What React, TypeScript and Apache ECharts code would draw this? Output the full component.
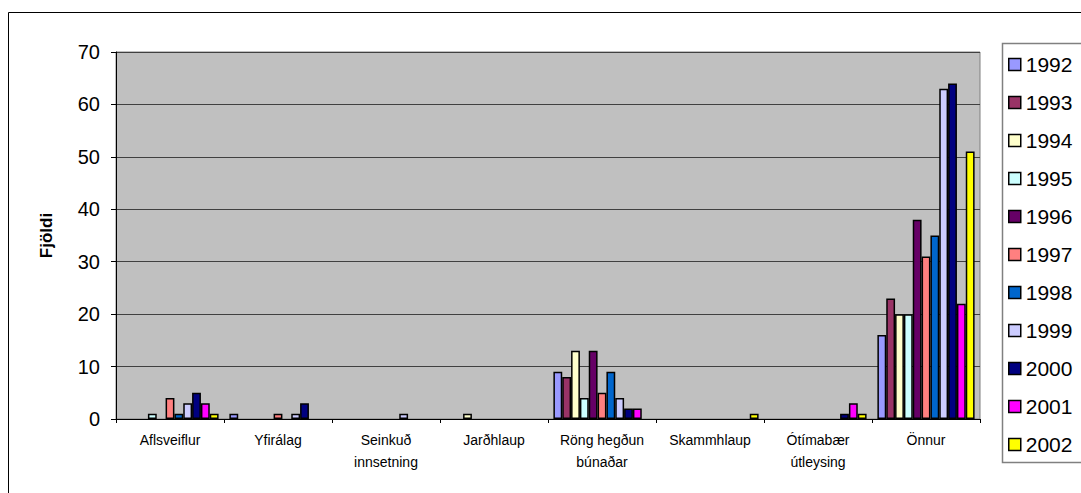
import React, { useEffect, useRef } from "react";
import * as echarts from "echarts";

// Fault categories along the x axis
const categories = [
  "Aflsveiflur",
  "Yfirálag",
  "Seinkuð\ninnsetning",
  "Jarðhlaup",
  "Röng hegðun\nbúnaðar",
  "Skammhlaup",
  "Ótímabær\nútleysing",
  "Önnur",
];

const years = ["1992", "1993", "1994", "1995", "1996", "1997", "1998", "1999", "2000", "2001", "2002"];

// Counts per year, one value per category
const v1992 = [0, 1, 0, 0, 9, 0, 0, 16];
const v1993 = [0, 0, 0, 0, 8, 0, 0, 23];
const v1994 = [0, 0, 0, 1, 13, 0, 0, 20];
const v1995 = [1, 0, 0, 0, 4, 0, 0, 20];
const v1996 = [0, 0, 0, 0, 13, 0, 0, 38];
const v1997 = [4, 1, 0, 0, 5, 0, 0, 31];
const v1998 = [1, 0, 0, 0, 9, 0, 0, 35];
const v1999 = [3, 1, 1, 0, 4, 0, 0, 63];
const v2000 = [5, 3, 0, 0, 2, 0, 1, 64];
const v2001 = [3, 0, 0, 0, 2, 0, 3, 22];
const v2002 = [1, 0, 0, 0, 0, 1, 1, 51];

const yearValues = [v1992, v1993, v1994, v1995, v1996, v1997, v1998, v1999, v2000, v2001, v2002];

const yearColors = [
  "#9999FF",
  "#993366",
  "#FFFFCC",
  "#CCFFFF",
  "#660066",
  "#FF8080",
  "#0066CC",
  "#CCCCFF",
  "#000080",
  "#FF00FF",
  "#FFFF00",
];

const yTicks = { min: 0, max: 70, interval: 10 };

const FONT = "'Liberation Sans', Arial, sans-serif";

export default function App() {
  const ref = useRef<HTMLDivElement>(null);

  useEffect(() => {
    if (!ref.current) return;
    const chart = echarts.init(ref.current, undefined, { renderer: "svg" });

    const series = years.map((y, i) => ({
      name: y,
      type: "bar" as const,
      barGap: "0%",
      barCategoryGap: "10%",
      // empty counts are left out so no flat bar outline is drawn
      data: yearValues[i].map((v) => (v === 0 ? null : v)),
      itemStyle: {
        color: yearColors[i],
        borderColor: "#000",
        borderWidth: 1.5,
      },
    }));

    chart.setOption({
      animation: false,
      backgroundColor: "#fff",
      textStyle: { fontFamily: FONT },
      grid: {
        left: 116,
        top: 52,
        right: 101,
        bottom: 74,
        show: true,
        backgroundColor: "#C0C0C0",
        borderColor: "#808080",
        borderWidth: 1,
      },
      graphic: [
        {
          type: "rect",
          shape: { x: 8.5, y: 12.5, width: 1100, height: 520 },
          style: { fill: "none", stroke: "#000", lineWidth: 1 },
          silent: true,
          z: -10,
        },
        {
          type: "rect",
          shape: { x: 1002.5, y: 43.5, width: 100, height: 419 },
          style: { fill: "#fff", stroke: "#808080", lineWidth: 1.5 },
          silent: true,
          z: 1,
        },
      ],
      legend: {
        orient: "vertical",
        left: 1008,
        top: 54,
        padding: 0,
        itemWidth: 12,
        itemHeight: 12,
        itemGap: 17,
        icon: "rect",
        itemStyle: { borderColor: "#000", borderWidth: 1.5 },
        textStyle: { fontFamily: FONT, fontSize: 21, color: "#000", lineHeight: 20 },
        z: 5,
        data: years,
      },
      xAxis: {
        type: "category",
        data: categories,
        boundaryGap: true,
        axisLine: { show: true, lineStyle: { color: "#000", width: 1 } },
        axisTick: { show: true, length: 4, lineStyle: { color: "#000" } },
        axisLabel: {
          interval: 0,
          margin: 10,
          fontFamily: FONT,
          fontSize: 14,
          lineHeight: 22,
          color: "#000",
        },
      },
      yAxis: {
        type: "value",
        min: yTicks.min,
        max: yTicks.max,
        interval: yTicks.interval,
        name: "Fjöldi",
        nameLocation: "middle",
        nameRotate: 90,
        nameGap: 61,
        nameTextStyle: { fontFamily: FONT, fontSize: 17, fontWeight: "bold", color: "#000" },
        axisLine: { show: true, lineStyle: { color: "#000", width: 1 } },
        axisTick: { show: true, length: 5, lineStyle: { color: "#000" } },
        axisLabel: { margin: 16, fontFamily: FONT, fontSize: 20, color: "#000" },
        splitLine: { show: true, lineStyle: { color: "#404040", width: 1 } },
      },
      series,
    });

    return () => chart.dispose();
  }, []);

  return (
    <div
      ref={ref}
      style={{ position: "fixed", left: 0, top: 0, width: 1081, height: 493, background: "#fff" }}
    />
  );
}
